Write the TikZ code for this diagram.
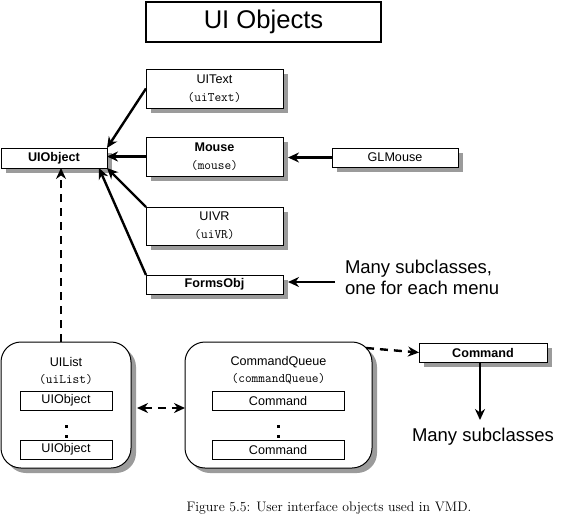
\documentclass[tikz,border=0pt]{standalone}
\usepackage{fontspec}
\usetikzlibrary{arrows.meta,shadows,calc}
\newfontfamily\hvfont{Liberation Sans}
\definecolor{shadowgray}{RGB}{155,155,155}
\newcommand\monotxt[1]{{\ttfamily\fontsize{13}{18}\selectfont #1}}
\tikzset{
  box/.style={draw, line width=1pt, fill=white, inner sep=0pt, outer sep=0pt, align=center,
    font=\hvfont\fontsize{12.6}{18}\selectfont},
  lbl/.style={inner sep=0pt, outer sep=0pt, align=center, font=\hvfont\fontsize{12.6}{17}\selectfont},
  shadowed/.style={drop shadow={shadow xshift=5pt, shadow yshift=-5pt, fill=shadowgray, opacity=1}},
  arr/.style={line width=2.4pt, -{Stealth[length=11pt,width=10pt]}},
  darr/.style={arr, dash pattern=on 8pt off 6pt},
  bignote/.style={inner sep=0pt, outer sep=0pt, align=left, font=\hvfont\fontsize{18.5}{21}\selectfont},
}
\begin{document}
\begin{tikzpicture}[x=1pt,y=-1pt]
\useasboundingbox (0,0) rectangle (562,520);
% title
\node[box, line width=2pt, minimum width=235pt, minimum height=40pt,
  font=\hvfont\fontsize{25.6}{30}\selectfont] (title) at (263.5,22) {UI Objects};
% class boxes
\node[box, shadowed, minimum width=137pt, minimum height=39pt] (uitext) at (214.5,88.5) {UIText\\\monotxt{(uiText)}};
\node[box, shadowed, minimum width=106pt, minimum height=20pt] (uiobject) at (54,158) {\bfseries UIObject};
\node[box, shadowed, minimum width=137pt, minimum height=39pt] (mouse) at (214.5,156.5) {\bfseries Mouse\\\monotxt{(mouse)}};
\node[box, shadowed, minimum width=126pt, minimum height=19pt] (glmouse) at (395,157.5) {GLMouse};
\node[box, shadowed, minimum width=137pt, minimum height=38pt] (uivr) at (214.5,226) {UIVR\\\monotxt{(uiVR)}};
\node[box, shadowed, minimum width=137pt, minimum height=19pt] (formsobj) at (214.5,284.5) {\bfseries FormsObj};
\node[bignote, anchor=north west] (note) at (345,260.5) {Many subclasses,\\one for each menu};
% containers
\node[box, shadowed, rounded corners=20pt, minimum width=130pt, minimum height=126pt] (uilist) at (66,405) {};
\node[box, shadowed, rounded corners=20pt, minimum width=187pt, minimum height=126pt] (cq) at (278.5,405) {};
\node[lbl] (uilistlbl) at (66,370.5) {UIList\\\monotxt{(uiList)}};
\node[lbl] (cqlbl) at (278.5,370.5) {CommandQueue\\\monotxt{(commandQueue)}};
\node[box, minimum width=92pt, minimum height=19pt] (li1) at (66,400.5) {UIObject};
\node[box, minimum width=92pt, minimum height=19pt] (li2) at (66,449.5) {UIObject};
\node[box, minimum width=132pt, minimum height=19pt] (cq1) at (278,400.5) {Command};
\node[box, minimum width=132pt, minimum height=19pt] (cq2) at (278,449.5) {Command};
\fill (64.5,425) rectangle ++(3,3);
\fill (64.5,434.5) rectangle ++(3,3);
\fill (276.5,425) rectangle ++(3,3);
\fill (276.5,434.5) rectangle ++(3,3);
\node[box, shadowed, minimum width=128pt, minimum height=19pt] (command) at (483,352.5) {\bfseries Command};
\node[bignote, anchor=north west] (many2) at (412,428.5) {Many subclasses};
% caption
\node[inner sep=0pt, font=\fontsize{13.8}{16}\selectfont, anchor=base] (caption) at (329,511) {Figure 5.5: User interface objects used in VMD.};
% connectors
\draw[arr] (uitext.west) -- (uiobject.north east);
\draw[arr] (mouse.west) -- (uiobject.east |- mouse.west);
\draw[arr] (uivr.north west) -- (uiobject.south east);
\draw[arr] (formsobj.north west) -- ($(uiobject.south east)+(-8,0)$);
\draw[arr] (glmouse.west) -- ($(mouse.east)+(5,1)$);
\coordinate (notetail) at (335,282);
\draw[arr] (notetail) -- ($(formsobj.east |- notetail)+(5,0)$);
\draw[darr] ($(uilist.north)+(-5,0)$) -- ($(uiobject.south)+(7,0)$);
\draw[darr, {Stealth[length=11pt,width=10pt]}-{Stealth[length=11pt,width=10pt]}] ($(uilist.east)+(6,3)$) -- ($(cq.west)+(0,3)$);
\draw[darr] ($(cq.north east)+(-6,6)$) -- (command.west);
\draw[arr] ($(command.south)+(-3,0)$) -- ($(command.south |- many2.north)+(-3,-8.5)$);
\end{tikzpicture}
\end{document}
